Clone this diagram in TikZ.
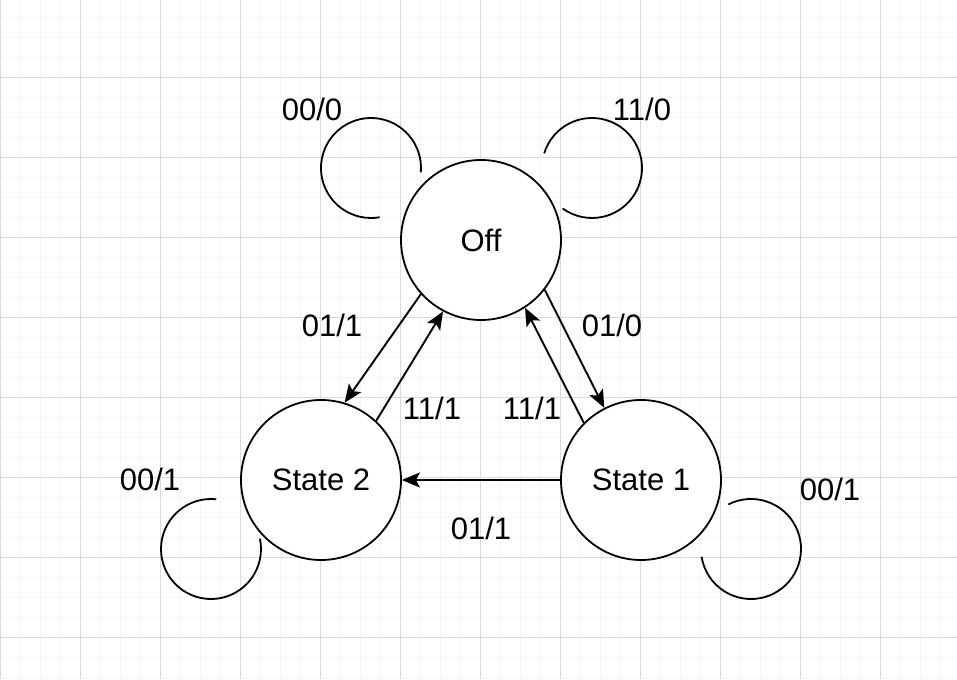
\documentclass[tikz,border=0pt]{standalone}
\usepackage{fontspec}
\setmainfont{Liberation Sans}
\definecolor{gridminor}{RGB}{245, 245, 245}
\definecolor{gridmajor}{RGB}{218, 218, 218}
\usepackage{tikz}
\usetikzlibrary{arrows.meta, positioning, calc}

\begin{document}
\begin{tikzpicture}[x=1pt, y=1pt,
    statenode/.style={draw, circle, line width=1.8pt, fill=white, minimum size=160pt, inner sep=0pt, font=\fontsize{31}{35}\selectfont},
    edgelabel/.style={font=\fontsize{31}{35}\selectfont, inner sep=0pt},
    transition/.style={-{Stealth[length=18pt, width=15pt, inset=4pt]}, line width=1.9pt},
    selfloop/.style={line width=1.8pt}]
  \useasboundingbox (0,0) rectangle (957,679);

  % Background grid
  \foreach \x in {0,20,...,940} \draw[gridminor, line width=1pt] (\x,0) -- (\x,679);
  \foreach \y in {1,21,...,661} \draw[gridminor, line width=1pt] (0,\y) -- (957,\y);
  \foreach \x in {0,80,...,880} \draw[gridmajor, line width=1pt] (\x,0) -- (\x,679);
  \foreach \y in {41,121,...,601} \draw[gridmajor, line width=1pt] (0,\y) -- (957,\y);

  % States
  \node[statenode] (off) at (481, 439) {Off};
  \node[statenode] (s2) at (321, 199) {State 2};
  \node[statenode] (s1) at (641, 199) {State 1};

  % Transitions between states
  \draw[transition] (off.222) -- (s2.73);
  \draw[transition] (s2.47) -- (off.242);
  \draw[transition] (off.-38) -- (s1.117);
  \draw[transition] (s1.135) -- (off.-57);
  \draw[transition] (s1.west) -- (s2.east);

  % Self loops
  \coordinate (loopoff1) at (371, 511);
  \coordinate (loopoff2) at (592, 511);
  \coordinate (loops2) at (211, 130);
  \coordinate (loops1) at (751, 130);
  \draw[selfloop] ($(loopoff1)+(-5:50)$) arc[start angle=-5, end angle=280, radius=50];
  \draw[selfloop] ($(loopoff2)+(163:50)$) arc[start angle=163, end angle=-126, radius=50];
  \draw[selfloop] ($(loops2)+(84:50)$) arc[start angle=84, end angle=372, radius=50];
  \draw[selfloop] ($(loops1)+(117:50)$) arc[start angle=117, end angle=-171, radius=50];

  % Labels
  \node[edgelabel] (l00off) at (312, 570) {00/0};
  \node[edgelabel] (l11off) at (642, 570) {11/0};
  \node[edgelabel] (l01a) at (332, 354) {01/1};
  \node[edgelabel] (l01b) at (612, 354) {01/0};
  \node[edgelabel] (l11a) at (432, 271) {11/1};
  \node[edgelabel] (l11b) at (532, 271) {11/1};
  \node[edgelabel] (l00s2) at (150, 200) {00/1};
  \node[edgelabel] (l00s1) at (830, 190) {00/1};
  \node[edgelabel] (l01c) at (481, 151) {01/1};
\end{tikzpicture}
\end{document}
